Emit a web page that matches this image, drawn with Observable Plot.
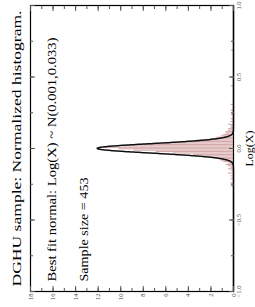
<!DOCTYPE html>
<html><head><meta charset="utf-8">
<script src="https://cdn.jsdelivr.net/npm/d3@7"></script>
<script src="https://cdn.jsdelivr.net/npm/@observablehq/plot@0.6"></script>
<style>body{margin:0;background:#fff;} #chart svg{display:block;}</style>
</head><body><div id="chart"></div>
<script>
// ---- data ----
const titleText = "DGHU sample: Normalized histogram.";
const fitText = "Best fit normal: Log(X) ~ N(0.001,0.033)";
const sizeText = "Sample size = 453";
const logLabel = "Log(X)";
const sampleSize = 453;
const binWidth = 0.01;
const fitMu = 0.001;
const fitSigma = 0.033;
const binStarts = [-0.27,-0.25,-0.22,-0.20,-0.18,-0.16,-0.15,-0.14,-0.13,-0.12,-0.11,-0.10,-0.09,-0.08,-0.07,-0.06,-0.05,-0.04,-0.03,-0.02,-0.01,
  0.00,0.01,0.02,0.03,0.04,0.05,0.06,0.07,0.08,0.09,0.10,0.11,0.12,0.13,0.14,0.15,0.16,0.18,0.20,0.23,0.26,0.30,0.43,0.68];
const binCounts = [1,1,1,1,2,1,2,1,2,3,2,4,5,6,9,12,16,24,31,40,46,
  52,44,38,28,21,15,9,7,5,4,3,3,2,2,1,1,2,1,1,1,1,1,1,1];
const logTicks = [-1,-0.5,0,0.5,1];
const logMinor = [-1,-0.75,-0.5,-0.25,0,0.25,0.5,0.75,1];
const densTicks = [0,2,4,6,8,10,12,14,16,18];
const densMinor = [0,1,2,3,4,5,6,7,8,9,10,11,12,13,14,15,16,17,18];

// ---- derived tables ----
const bars = binStarts.map((s,i)=>({y1:s, y2:s+binWidth, density: binCounts[i]/(sampleSize*binWidth)}));
const curveX = d3.range(-1, 1.0005, 0.001);
const curve = curveX.map(v=>({logx:v, density: Math.exp(-((v-fitMu)**2)/(2*fitSigma*fitSigma))/(fitSigma*Math.sqrt(2*Math.PI))}));

const blank = () => "";
const font = "Liberation Serif, Times New Roman, serif";
const chart = Plot.plot({
  width: 255, height: 307,
  marginLeft: 30, marginRight: 22, marginTop: 5, marginBottom: 16,
  style: {fontFamily: font, background: "#fff"},
  x: {domain: [0,18], reverse: true},
  y: {domain: [-1,1]},
  marks: [
    Plot.rectX(bars, {x: "density", y1: "y1", y2: "y2", fill: "#d7abab", insetTop: 0.15, insetBottom: 0.15}),
    Plot.line(curve, {x: "density", y: "logx", stroke: "#111", strokeWidth: 1.5}),
    Plot.frame({stroke: "#000", strokeWidth: 1.2}),
    Plot.axisX({anchor: "bottom", ticks: densTicks, tickSize: -5, tickFormat: blank, label: null, stroke: "#555"}),
    Plot.axisX({anchor: "bottom", ticks: densMinor, tickSize: -3, tickFormat: blank, label: null, stroke: "#555"}),
    Plot.axisX({anchor: "top", ticks: densTicks, tickSize: -5, tickFormat: blank, label: null, stroke: "#555"}),
    Plot.axisX({anchor: "top", ticks: densMinor, tickSize: -3, tickFormat: blank, label: null, stroke: "#555"}),
    Plot.axisX({anchor: "bottom", ticks: densTicks, tickSize: 0, tickPadding: 2, tickRotate: -90, textAnchor: "end", lineAnchor: "middle", fontSize: 6.5, fill: "#444", tickFormat: d3.format("d"), label: null}),
    Plot.axisY({anchor: "right", ticks: logTicks, tickSize: -5, tickFormat: blank, label: null, stroke: "#555"}),
    Plot.axisY({anchor: "right", ticks: logMinor, tickSize: -3, tickFormat: blank, label: null, stroke: "#555"}),
    Plot.axisY({anchor: "left", ticks: logTicks, tickSize: -5, tickFormat: blank, label: null, stroke: "#555"}),
    Plot.axisY({anchor: "left", ticks: logMinor, tickSize: -3, tickFormat: blank, label: null, stroke: "#555"}),
    Plot.axisY({anchor: "right", ticks: logTicks, tickSize: 0, tickPadding: 3, tickRotate: -90, textAnchor: "middle", lineAnchor: "top", fontSize: 6.5, fill: "#444", tickFormat: d3.format(".1f"), label: null}),
    Plot.text([titleText], {frameAnchor: "left", dx: -10, rotate: -90, textAnchor: "middle", lineAnchor: "bottom", fontSize: 13, fill: "#000", className: "t-title"}),
    Plot.text([fitText], {frameAnchor: "bottom-left", dx: 25, dy: -10, rotate: -90, textAnchor: "start", lineAnchor: "bottom", fontSize: 12, fill: "#000", className: "t-fit"}),
    Plot.text([sizeText], {frameAnchor: "bottom-left", dx: 57, dy: -10, rotate: -90, textAnchor: "start", lineAnchor: "bottom", fontSize: 12, fill: "#000", className: "t-size"}),
    Plot.text([logLabel], {frameAnchor: "right", dx: 19, rotate: -90, textAnchor: "middle", lineAnchor: "bottom", fontSize: 11, fill: "#000", className: "t-log"})
  ]
});
// stretch text along its reading direction to match the reference proportions
const stretch = {"t-title": 276, "t-fit": 244, "t-size": 104, "t-log": 36};
for (const [cls, len] of Object.entries(stretch)) {
  d3.select(chart).selectAll(`.${cls} text`).attr("textLength", len).attr("lengthAdjust", "spacingAndGlyphs");
}
document.getElementById("chart").appendChild(chart);
</script>
</body></html>
